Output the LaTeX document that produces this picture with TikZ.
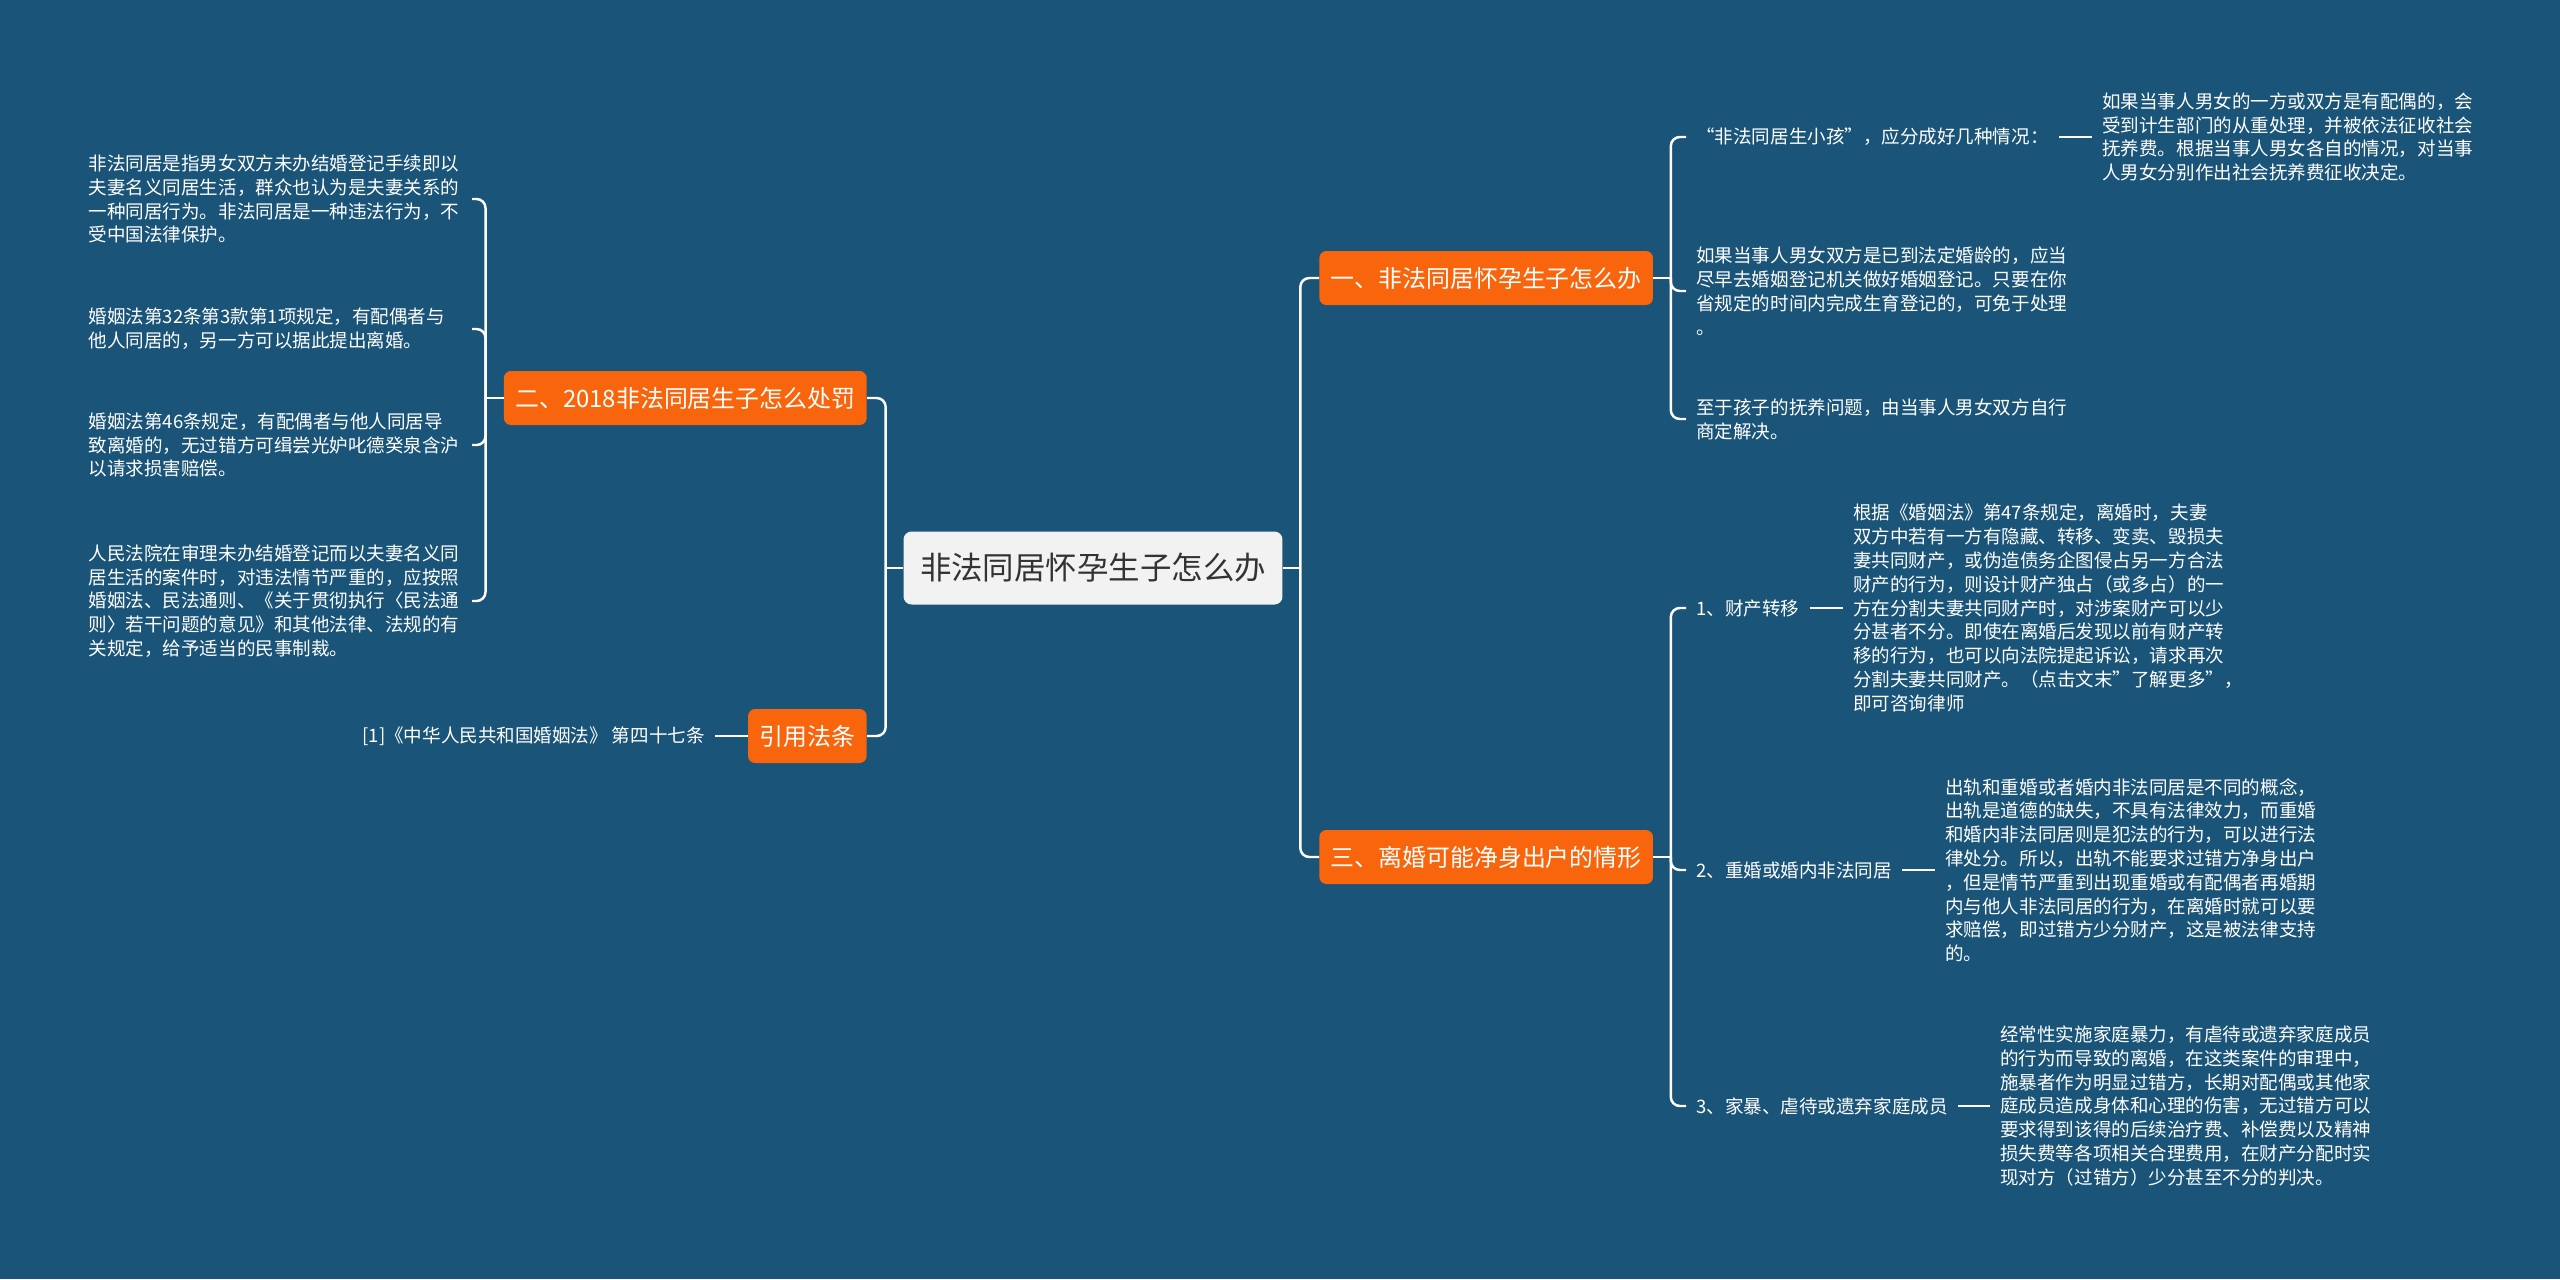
\documentclass[tikz,border=0pt]{standalone}
\usepackage{fontspec}
\setmainfont{Noto Sans CJK SC}
\usetikzlibrary{positioning}

\definecolor{mapbg}{HTML}{1A5478}
\definecolor{branchorange}{HTML}{F8650C}
\definecolor{rootgray}{HTML}{F2F2F2}
\definecolor{roottext}{HTML}{333333}

\begin{document}
\begin{tikzpicture}[x=0.02cm, y=-0.02cm,
    rootbox/.style={fill=rootgray, text=roottext, rounded corners=0.16cm,
        minimum height=1.46cm, inner xsep=0.33cm,
        font=\fontsize{17.9pt}{21pt}\selectfont},
    branchbox/.style={fill=branchorange, text=white, rounded corners=0.14cm,
        minimum height=1.08cm, inner xsep=0.23cm,
        font=\fontsize{13.6pt}{16pt}\selectfont},
    leaftext/.style={text=white, align=left, inner xsep=0.2cm, inner ysep=0pt,
        font=\fontsize{10.55pt}{13.55pt}\selectfont},
    link/.style={draw=white, line width=1.4pt, rounded corners=0.18cm}]

    % Background of the whole map
    \fill[mapbg] (0,0) rectangle (2560,1279);
    \useasboundingbox (0,0) rectangle (2560,1279);

    % Central topic and the four main branches
    \node[rootbox] (root) at (1093,568) {非法同居怀孕生子怎么办};
    \node[branchbox, anchor=west] (one) at (1319,278) {一、非法同居怀孕生子怎么办};
    \node[branchbox, anchor=west] (three) at (1319,857) {三、离婚可能净身出户的情形};
    \node[branchbox, anchor=east] (two) at (867,398) {二、2018非法同居生子怎么处罚};
    \node[branchbox, anchor=east] (cite) at (867,736) {引用法条};

    % Texts on the left side
    \node[leaftext, text width=7.46cm, anchor=east] (twoA) at (472,199)
        {非法同居是指男女双方未办结婚登记手续即以\\夫妻名义同居生活，群众也认为是夫妻关系的\\一种同居行为。非法同居是一种违法行为，不\\受中国法律保护。};
    \node[leaftext, text width=7.46cm, anchor=east] (twoB) at (472,329)
        {婚姻法第32条第3款第1项规定，有配偶者与\\他人同居的，另一方可以据此提出离婚。};
    \node[leaftext, text width=7.46cm, anchor=east] (twoC) at (472,445)
        {婚姻法第46条规定，有配偶者与他人同居导\\致离婚的，无过错方可缉尝光妒叱德癸泉含沪\\以请求损害赔偿。};
    \node[leaftext, text width=7.46cm, anchor=east] (twoD) at (472,601)
        {人民法院在审理未办结婚登记而以夫妻名义同\\居生活的案件时，对违法情节严重的，应按照\\婚姻法、民法通则、《关于贯彻执行〈民法通\\则〉若干问题的意见》和其他法律、法规的有\\关规定，给予适当的民事制裁。};
    \node[leaftext, anchor=east] (citeA) at (715,736) {[1]《中华人民共和国婚姻法》 第四十七条};

    % Texts on the right side, first branch
    \node[leaftext, anchor=west] (oneA) at (1686,137) {“非法同居生小孩”，应分成好几种情况：};
    \node[leaftext, anchor=west] (oneA1) at (2092,137)
        {如果当事人男女的一方或双方是有配偶的，会\\受到计生部门的从重处理，并被依法征收社会\\抚养费。根据当事人男女各自的情况，对当事\\人男女分别作出社会抚养费征收决定。};
    \node[leaftext, anchor=west] (oneB) at (1686,291)
        {如果当事人男女双方是已到法定婚龄的，应当\\尽早去婚姻登记机关做好婚姻登记。只要在你\\省规定的时间内完成生育登记的，可免于处理\\。};
    \node[leaftext, anchor=west] (oneC) at (1686,419)
        {至于孩子的抚养问题，由当事人男女双方自行\\商定解决。};

    % Texts on the right side, third branch
    \node[leaftext, anchor=west] (threeA) at (1686,608) {1、财产转移};
    \node[leaftext, anchor=west] (threeA1) at (1843,608)
        {根据《婚姻法》第47条规定，离婚时，夫妻\\双方中若有一方有隐藏、转移、变卖、毁损夫\\妻共同财产，或伪造债务企图侵占另一方合法\\财产的行为，则设计财产独占（或多占）的一\\方在分割夫妻共同财产时，对涉案财产可以少\\分甚者不分。即使在离婚后发现以前有财产转\\移的行为，也可以向法院提起诉讼，请求再次\\分割夫妻共同财产。（点击文末"了解更多"，\\即可咨询律师};
    \node[leaftext, anchor=west] (threeB) at (1686,870) {2、重婚或婚内非法同居};
    \node[leaftext, anchor=west] (threeB1) at (1935,870)
        {出轨和重婚或者婚内非法同居是不同的概念，\\出轨是道德的缺失，不具有法律效力，而重婚\\和婚内非法同居则是犯法的行为，可以进行法\\律处分。所以，出轨不能要求过错方净身出户\\，但是情节严重到出现重婚或有配偶者再婚期\\内与他人非法同居的行为，在离婚时就可以要\\求赔偿，即过错方少分财产，这是被法律支持\\的。};
    \node[leaftext, anchor=west] (threeC) at (1686,1106) {3、家暴、虐待或遗弃家庭成员};
    \node[leaftext, anchor=west] (threeC1) at (1990,1106)
        {经常性实施家庭暴力，有虐待或遗弃家庭成员\\的行为而导致的离婚，在这类案件的审理中，\\施暴者作为明显过错方，长期对配偶或其他家\\庭成员造成身体和心理的伤害，无过错方可以\\要求得到该得的后续治疗费、补偿费以及精神\\损失费等各项相关合理费用，在财产分配时实\\现对方（过错方）少分甚至不分的判决。};

    % Junction points of the trunks
    \coordinate (rootR) at ([xshift=0.35cm]root.east);
    \coordinate (rootL) at ([xshift=-0.35cm]root.west);
    \coordinate (oneR) at ([xshift=0.35cm]one.east);
    \coordinate (threeR) at ([xshift=0.35cm]three.east);
    \coordinate (twoL) at ([xshift=-0.36cm]two.west);

    % Root to main branches
    \draw[link] (root.east) -- (rootR);
    \draw[link] (rootR) |- (one.west);
    \draw[link] (rootR) |- (three.west);
    \draw[link] (root.west) -- (rootL);
    \draw[link] (rootL) |- (two.east);
    \draw[link] (rootL) |- (cite.east);

    % Branch two to its texts
    \draw[link] (two.west) -- (twoL);
    \draw[link] (twoL) |- (twoA.east);
    \draw[link] (twoL) |- (twoB.east);
    \draw[link] (twoL) |- (twoC.east);
    \draw[link] (twoL) |- (twoD.east);
    \draw[link] (citeA.east) -- (cite.west);

    % Branch one to its texts
    \draw[link] (one.east) -- (oneR);
    \draw[link] (oneR) |- (oneA.west);
    \draw[link] (oneR) |- (oneB.west);
    \draw[link] (oneR) |- (oneC.west);
    \draw[link] (oneA.east) -- (oneA1.west);

    % Branch three to its texts
    \draw[link] (three.east) -- (threeR);
    \draw[link] (threeR) |- (threeA.west);
    \draw[link] (threeR) |- (threeB.west);
    \draw[link] (threeR) |- (threeC.west);
    \draw[link] (threeA.east) -- (threeA1.west);
    \draw[link] (threeB.east) -- (threeB1.west);
    \draw[link] (threeC.east) -- (threeC1.west);
\end{tikzpicture}
\end{document}
